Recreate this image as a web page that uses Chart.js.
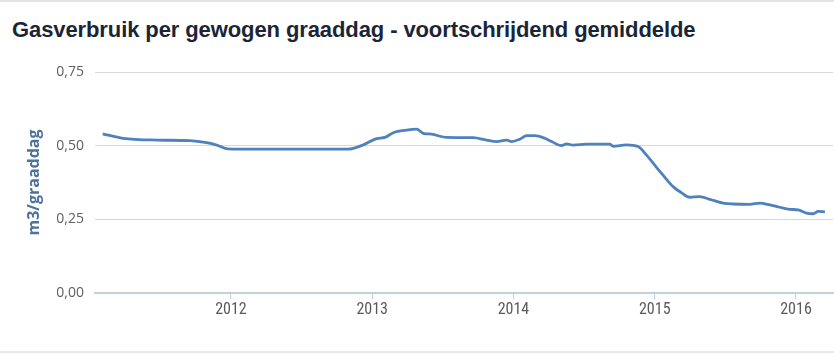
<!DOCTYPE html>
<html><head><meta charset="utf-8">
<script src="https://cdn.jsdelivr.net/npm/chart.js@4"></script>
<style>
body{margin:0;background:#fff;}
#wrap{position:relative;width:834px;height:354px;overflow:hidden;background:#fff;}
#topline{position:absolute;left:0;top:0;width:834px;height:2px;background:#e3e3e3;}
#botline{position:absolute;left:0;top:351px;width:834px;height:2px;background:#e8e8e8;}
#title{position:absolute;left:12px;top:17px;font:bold 22px "Liberation Sans",Arial,sans-serif;color:#1b2536;white-space:nowrap;letter-spacing:-0.1px;}
canvas{position:absolute;left:0;top:0;}
</style></head><body>
<div id="wrap"><div id="topline"></div><div id="title">Gasverbruik per gewogen graaddag - voortschrijdend gemiddelde</div><canvas id="c" width="834" height="354"></canvas><div id="botline"></div></div>
<script>
// decimal years (x) and m3 per graaddag (y)
const years = [2011.092,2011.236,2011.474,2011.710,2011.828,2011.899,2011.979,2012.134,2012.488,2012.828,2012.934,2013.031,2013.090,2013.149,2013.243,2013.314,2013.361,2013.420,2013.527,2013.715,2013.810,2013.880,2013.951,2013.987,2014.045,2014.093,2014.151,2014.222,2014.270,2014.340,2014.376,2014.423,2014.517,2014.682,2014.705,2014.800,2014.882,2014.942,2015.000,2015.059,2015.130,2015.190,2015.248,2015.319,2015.390,2015.496,2015.555,2015.673,2015.744,2015.815,2015.885,2015.956,2016.015,2016.074,2016.121,2016.157,2016.205];
const values = [0.540,0.525,0.519,0.517,0.510,0.502,0.489,0.488,0.488,0.488,0.502,0.524,0.528,0.544,0.553,0.556,0.542,0.539,0.528,0.527,0.519,0.514,0.519,0.514,0.522,0.534,0.534,0.525,0.514,0.500,0.506,0.502,0.505,0.505,0.498,0.503,0.497,0.468,0.434,0.400,0.361,0.340,0.325,0.327,0.318,0.304,0.302,0.301,0.305,0.299,0.291,0.284,0.282,0.271,0.269,0.277,0.275];
const yearTicks = [2012, 2013, 2014, 2015, 2016];
const yTicks = [0, 0.25, 0.5, 0.75];
const seriesName = 'Gasverbruik per gewogen graaddag';
const yAxisTitle = 'm3/graaddag';
const xMin = 2011.0375, xMax = 2016.262;

const points = years.map((x, i) => ({x: x, y: values[i]}));

new Chart(document.getElementById('c'), {
  type: 'line',
  data: { datasets: [{
    label: seriesName,
    data: points,
    borderColor: '#4f81bd',
    borderWidth: 2.8,
    pointRadius: 0,
    fill: false,
    cubicInterpolationMode: 'monotone'
  }]},
  options: {
    responsive: false,
    devicePixelRatio: 1,
    animation: false,
    layout: { padding: { top: 72, right: 1, left: 0, bottom: 0 } },
    plugins: { legend: { display: false }, tooltip: { enabled: false }, title: { display: false } },
    scales: {
      x: {
        type: 'linear', min: xMin, max: xMax,
        afterBuildTicks: s => { s.ticks = yearTicks.map(v => ({value: v})); },
        afterFit: s => { s.height = 61; },
        grid: { drawOnChartArea: false, drawTicks: true, tickLength: 6, color: '#c0d0e0', lineWidth: 1 },
        border: { display: true, color: '#c0d0e0', width: 2 },
        ticks: { padding: 1, autoSkip: false, maxRotation: 0, color: '#5a5a5a',
          font: { family: '"Liberation Sans Narrow","Roboto Condensed","Liberation Sans",Arial,sans-serif', size: 16 },
          callback: v => String(v) }
      },
      y: {
        min: 0, max: 0.75,
        afterBuildTicks: s => { s.ticks = yTicks.map(v => ({value: v})); },
        afterFit: s => { s.width = 95; },
        grid: { drawTicks: false, color: c => (c.tick && c.tick.value === 0) ? '#c0d0e0' : '#d8d8d8', lineWidth: 1 },
        border: { display: false },
        ticks: { padding: 11, color: '#606060',
          font: { family: '"Open Sans",sans-serif', size: 14 },
          callback: v => v.toFixed(2).replace('.', ',') },
        title: { display: true, text: yAxisTitle, color: '#4d739b',
          font: { family: '"Open Sans",sans-serif', size: 16, weight: 'bold' },
          padding: { top: 25, bottom: 0 } }
      }
    }
  }
});
</script>
</body></html>
